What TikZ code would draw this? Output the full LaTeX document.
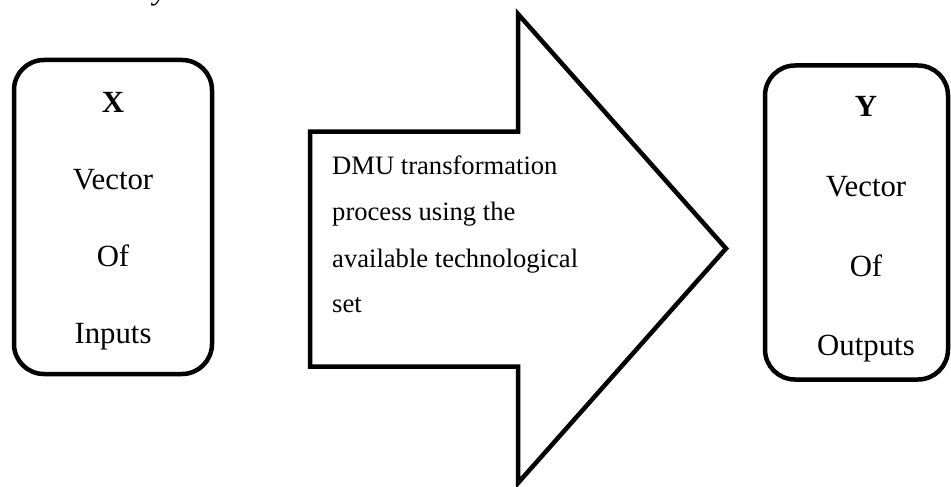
\documentclass[tikz,border=0pt]{standalone}
\usepackage{fontspec}
\setmainfont{Liberation Serif}
\begin{document}
\begin{tikzpicture}[x=1pt,y=-1pt,
  frame/.style={draw=black, line width=4.5pt, line join=miter},
  roundbox/.style={frame, rounded corners=30pt, minimum width=#1, minimum height=314pt, inner sep=0pt, outer sep=0pt},
  boxtext/.style={anchor=base, inner sep=0pt, font=\fontsize{30.8}{37}\selectfont},
  arrowtext/.style={anchor=base west, inner sep=0pt, font=\fontsize{26.6}{32}\selectfont},
  captext/.style={anchor=base west, inner sep=0pt, font=\fontsize{30.8}{37}\selectfont\itshape}]
\path[use as bounding box] (0,0) rectangle (951,487);
\clip (0,0) rectangle (951,487);
% caption fragment
\node[captext] (cap) at (73,-0.5) {Activity};
% left box
\node[roundbox=198pt] (inbox) at (113,217) {};
\node[boxtext] (x) at (113,112) {\textbf{X}};
\node[boxtext] (xv) at (113,189) {Vector};
\node[boxtext] (xo) at (113,266) {Of};
\node[boxtext] (xi) at (113,343) {Inputs};
% right box
\node[roundbox=183pt] (outbox) at (856.5,222.5) {};
\node[boxtext] (y) at (866,117) {\textbf{Y}};
\node[boxtext] (yv) at (866,196) {Vector};
\node[boxtext] (yo) at (866,276) {Of};
\node[boxtext] (yu) at (866,355) {Outputs};
% big arrow
\coordinate (a1) at (310,131.5);
\coordinate (a2) at (518,131.5);
\coordinate (a3) at (518,14);
\coordinate (a4) at (726,248.5);
\coordinate (a5) at (518,483);
\coordinate (a6) at (518,366.5);
\coordinate (a7) at (310,366.5);
\draw[frame] (a1) -- (a2) -- (a3) -- (a4) -- (a5) -- (a6) -- (a7) -- cycle;
\node[arrowtext] (t1) at (332,174) {DMU transformation};
\node[arrowtext] (t2) at (332,220) {process using the};
\node[arrowtext] (t3) at (332,267) {available technological};
\node[arrowtext] (t4) at (332,312) {set};
\end{tikzpicture}
\end{document}
